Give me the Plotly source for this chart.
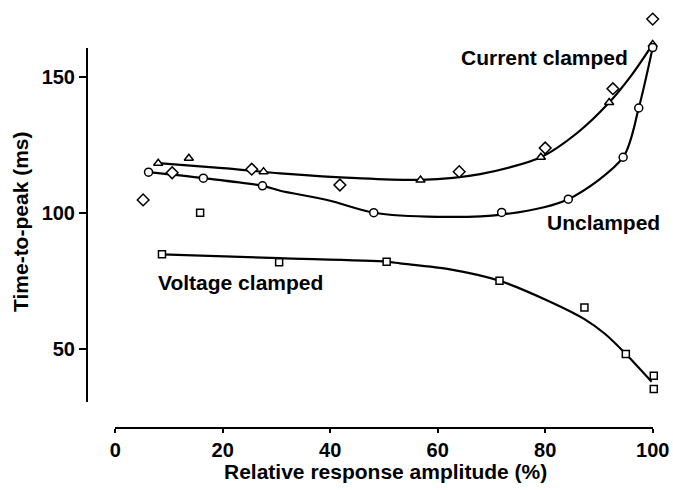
import plotly.graph_objects as go

# ---- data ----
# Current clamped (triangles)
cur_x = [8.0, 13.7, 27.6, 56.8, 79.2, 91.9, 100.0]
cur_y = [118.3, 120.1, 115.2, 112.1, 120.5, 140.6, 162.0]
# Unclamped (circles)
unc_x = [6.2, 16.4, 27.4, 48.1, 71.9, 84.3, 94.5, 97.4, 100.0]
unc_y = [115.0, 112.8, 110.0, 100.1, 100.2, 105.1, 120.5, 138.6, 160.8]
# Additional current-clamped cell (diamonds)
dia_x = [5.2, 10.6, 25.4, 41.8, 64.0, 80.0, 92.6, 100.0]
dia_y = [104.8, 114.8, 116.1, 110.3, 115.2, 123.9, 145.7, 171.3]
# Voltage clamped (squares)
vol_x = [8.7, 15.8, 30.5, 50.5, 71.5, 87.3, 95.0, 100.2, 100.2]
vol_y = [84.8, 100.1, 81.9, 82.1, 75.1, 65.3, 48.2, 40.2, 35.3]

# Hand-drawn fitted curves
cur_fit_x = [8.0, 20.0, 30.7, 45.0, 56.8, 67.9, 79.2, 86.0, 91.9, 96.0, 100.0]
cur_fit_y = [118.3, 116.5, 114.6, 112.8, 112.2, 114.3, 120.5, 129.5, 140.6, 150.5, 162.0]
unc_fit_x = [6.2, 16.4, 27.4, 30.7, 39.8, 48.1, 60.0, 71.9, 84.3, 94.5, 97.4, 100.0]
unc_fit_y = [115.0, 112.8, 110.0, 108.2, 104.6, 100.1, 98.6, 99.4, 105.1, 120.5, 138.6, 160.8]
vol_fit_x = [8.7, 30.5, 50.5, 53.0, 62.3, 71.5, 80.9, 87.3, 91.1, 95.0, 99.8]
vol_fit_y = [84.8, 83.4, 82.1, 81.5, 79.3, 75.1, 67.4, 61.0, 55.6, 48.2, 38.0]

x_ticks = [0, 20, 40, 60, 80, 100]
y_ticks = [50, 100, 150]

labels = ["Current clamped", "Unclamped", "Voltage clamped"]
label_x = [64.0, 80.0, 7.6]
label_y = [157.2, 96.5, 74.6]

FONT = "Liberation Sans, Arial, Helvetica, sans-serif"

W, H = 673, 490
ml, mr, mt, mb = 87, 5, 10, 62
pw = W - ml - mr
ph = H - mt - mb

# pixel geometry of the drawn axes (x: 0 -> 115.2 px, 100 -> 652.7 px; y: 100 -> 213 px, 2.72 px/unit)
X0PX, X100PX = 115.2, 652.7
PXX = (X100PX - X0PX) / 100.0
Y100PX, PXY = 213.0, 2.72
YTOP, YBOT = 48.3, 401.7
XAXIS_PX = H - mb

def data_x(px):
    return (px - X0PX) / PXX

def data_y(py):
    return 100 + (Y100PX - py) / PXY

fig = go.Figure()

for fx, fy in [(cur_fit_x, cur_fit_y), (unc_fit_x, unc_fit_y), (vol_fit_x, vol_fit_y)]:
    fig.add_trace(go.Scatter(x=fx, y=fy, mode="lines",
                             line=dict(color="black", width=2.2, shape="spline", smoothing=0.8),
                             hoverinfo="skip", showlegend=False, cliponaxis=False))

def markers(x, y, symbol, size):
    fig.add_trace(go.Scatter(x=x, y=y, mode="markers", showlegend=False, cliponaxis=False,
                             marker=dict(symbol=symbol, size=size, color="white",
                                         line=dict(color="black", width=1.5))))

markers(dia_x, dia_y, "diamond", 9)
markers(cur_x, cur_y, "triangle-up", 8)
markers(unc_x, unc_y, "circle", 8)
markers(vol_x, vol_y, "square", 7)

# dummy trace that carries the visible (detached) axes
fig.add_trace(go.Scatter(x=[None], y=[None], xaxis="x2", yaxis="y2", showlegend=False,
                         hoverinfo="skip", mode="markers"))

for t, ax_, ay_ in zip(labels, label_x, label_y):
    fig.add_annotation(x=ax_, y=ay_, text=t, showarrow=False, xanchor="left", yanchor="middle",
                       font=dict(family=FONT, size=21, color="black", weight="bold"))

# axis titles
fig.add_annotation(xref="paper", yref="paper", x=(385 - ml) / pw, y=(XAXIS_PX - 472) / ph,
                   text="Relative response amplitude (%)", showarrow=False,
                   xanchor="center", yanchor="middle", borderpad=0,
                   font=dict(family=FONT, size=21, color="black", weight="bold"))
fig.add_annotation(xref="paper", yref="paper", x=(20 - ml) / pw, y=(XAXIS_PX - 222) / ph,
                   text="Time-to-peak (ms)", showarrow=False, textangle=-90,
                   xanchor="center", yanchor="middle",
                   font=dict(family=FONT, size=21, color="black", weight="bold"))

fig.update_layout(
    width=W, height=H,
    margin=dict(l=ml, r=mr, t=mt, b=mb, pad=0),
    paper_bgcolor="white", plot_bgcolor="rgba(0,0,0,0)",
    font=dict(family=FONT, color="black"),
    # data axes (invisible, full plot area, same scale as drawn axes)
    xaxis=dict(domain=[0, 1], range=[data_x(ml), data_x(W - mr)], visible=False,
               fixedrange=True),
    yaxis=dict(domain=[0, 1], range=[data_y(H - mb), data_y(mt)], visible=False,
               fixedrange=True),
    # drawn axes (detached)
    xaxis2=dict(
        domain=[(X0PX - ml) / pw, (X100PX - ml) / pw], range=[0, 100],
        anchor="free", position=0,
        showgrid=False, zeroline=False, showline=True, linecolor="black", linewidth=2,
        ticks="outside", ticklen=4, tickwidth=2, tickcolor="black",
        tickvals=x_ticks, ticktext=[str(v) for v in x_ticks],
        tickfont=dict(family=FONT, size=20, color="black", weight="bold"),
        automargin=False, fixedrange=True,
    ),
    yaxis2=dict(
        domain=[(XAXIS_PX - YBOT) / ph, (XAXIS_PX - YTOP) / ph],
        range=[data_y(YBOT), data_y(YTOP)], anchor="free", position=0,
        showgrid=False, zeroline=False, showline=True, linecolor="black", linewidth=2,
        ticks="outside", ticklen=7, tickwidth=2, tickcolor="black",
        tickvals=y_ticks, ticktext=[str(v) for v in y_ticks],
        tickfont=dict(family=FONT, size=20, color="black", weight="bold"),
        automargin=False, fixedrange=True,
    ),
)

fig.write_html("out.html")
